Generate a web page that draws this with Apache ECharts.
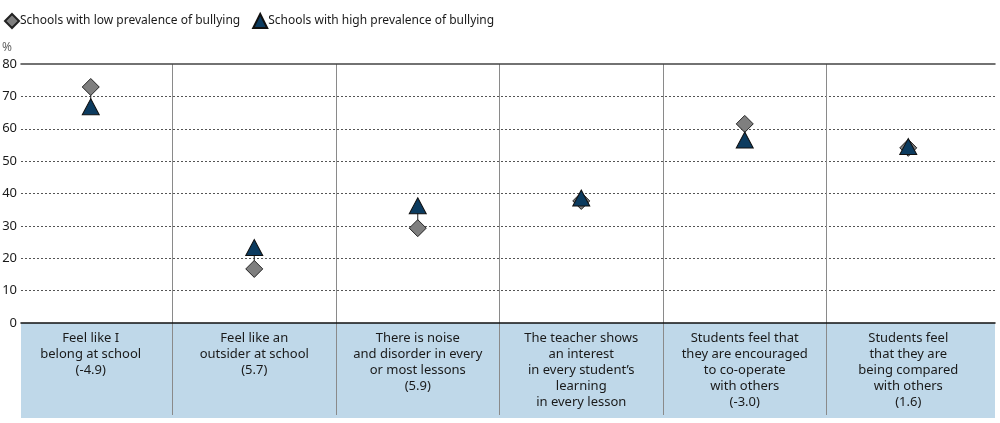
<!DOCTYPE html>
<html>
<head>
<meta charset="utf-8">
<script src="https://cdn.jsdelivr.net/npm/echarts@6/dist/echarts.min.js"></script>
<style>
html,body{margin:0;padding:0;background:#fff;}
#chart{width:1000px;height:423px;}
</style>
</head>
<body>
<div id="chart"></div>
<script>
const categories = [
  "Feel like I\nbelong at school\n(-4.9)",
  "Feel like an\noutsider at school\n(5.7)",
  "There is noise\nand disorder in every\nor most lessons\n(5.9)",
  "The teacher shows\nan interest\nin every student\u2019s\nlearning\nin every lesson",
  "Students feel that\nthey are encouraged\nto co-operate\nwith others\n(-3.0)",
  "Students feel\nthat they are\nbeing compared\nwith others\n(1.6)"
];
const seriesNames = ["Schools with low prevalence of bullying", "Schools with high prevalence of bullying"];
const lowValues = [72.9, 16.7, 29.3, 37.7, 61.5, 54.1];
const highValues = [66.8, 23.3, 36.2, 38.6, 56.5, 54.5];
const yTicks = {min: 0, max: 80, interval: 10};

const FONT = '"Noto Sans", "Open Sans", sans-serif';
const chart = echarts.init(document.getElementById('chart'), null, {renderer: 'canvas'});

const plotTop = 64, zeroY = 323, bandBottom = 415;
const pxPerUnit = (zeroY - plotTop) / (yTicks.max - yTicks.min);
const dataYMin = -(bandBottom - zeroY) / pxPerUnit;

const option = {
  animation: false,
  textStyle: {fontFamily: FONT},
  legend: {
    left: -1, top: 8,
    itemWidth: 14, itemHeight: 14, itemGap: 12,
    textStyle: {fontFamily: FONT, fontSize: 12, color: '#1a1a1a', padding: [0, 0, 0, -4]},
    data: seriesNames
  },
  graphic: {
    elements: [{
      type: 'rect', z: -10, silent: true,
      shape: {x: 21, y: zeroY, width: 974, height: 95},
      style: {fill: '#bfd8e9'}
    }]
  },
  grid: [
    {left: 21, right: 5, top: plotTop, bottom: 423 - zeroY, containLabel: false, outerBoundsMode: 'none'},
    {left: 9, right: 10, top: plotTop, bottom: 423 - bandBottom, containLabel: false, outerBoundsMode: 'none'},
    {left: 9, right: 10, top: plotTop, bottom: 423 - zeroY, containLabel: false, outerBoundsMode: 'none'}
  ],
  xAxis: [
    {gridIndex: 0, type: 'category', data: categories, position: 'bottom',
     axisLine: {show: true, lineStyle: {color: '#111', width: 1.5}},
     axisTick: {show: false}, axisLabel: {show: false}, splitLine: {show: false}},
    {gridIndex: 0, type: 'category', data: categories, position: 'top',
     axisLine: {show: true, onZero: false, lineStyle: {color: '#444', width: 1.5}},
     axisTick: {show: false}, axisLabel: {show: false}, splitLine: {show: false}},
    {gridIndex: 1, type: 'category', data: categories, boundaryGap: true,
     axisLine: {show: false}, axisTick: {show: false}, axisLabel: {show: false},
     splitLine: {show: true, showMinLine: false, showMaxLine: false, interval: 0, lineStyle: {color: '#8a8a8a', width: 1}}},
    {gridIndex: 2, type: 'category', data: categories, boundaryGap: true, position: 'bottom',
     axisLine: {show: false}, axisTick: {show: false}, splitLine: {show: false},
     axisLabel: {interval: 0, margin: 7, fontSize: 13, lineHeight: 16, color: '#1a1a1a', fontFamily: FONT, align: 'center'}}
  ],
  yAxis: [
    {gridIndex: 0, type: 'value', min: yTicks.min, max: yTicks.max, interval: yTicks.interval,
     name: '%', nameLocation: 'end', nameGap: 10,
     nameTextStyle: {fontFamily: FONT, fontSize: 12, color: '#666', align: 'right', padding: [0, 9, 0, 0]},
     axisLine: {show: false}, axisTick: {show: false},
     axisLabel: {margin: 4, fontSize: 13, color: '#1a1a1a', fontFamily: FONT},
     splitLine: {show: true, showMinLine: false, showMaxLine: false, lineStyle: {color: '#555', width: 1, type: [2, 2]}}},
    {gridIndex: 1, type: 'value', min: dataYMin, max: yTicks.max, show: false, splitLine: {show: false}},
    {gridIndex: 2, type: 'value', min: yTicks.min, max: yTicks.max, show: false, splitLine: {show: false}}
  ],
  series: [
    {
      type: 'custom', name: 'connector', xAxisIndex: 2, yAxisIndex: 1, z: 1,
      data: categories.map((c, i) => [i, lowValues[i], highValues[i]]),
      encode: {x: 0, y: [1, 2]},
      renderItem: function (params, api) {
        const a = api.coord([api.value(0), api.value(1)]);
        const b = api.coord([api.value(0), api.value(2)]);
        return {type: 'line', shape: {x1: a[0], y1: a[1], x2: b[0], y2: b[1]},
                style: {stroke: '#222', lineWidth: 1}};
      },
      silent: true
    },
    {
      type: 'scatter', name: seriesNames[0], xAxisIndex: 2, yAxisIndex: 1, z: 2,
      symbol: 'diamond', symbolSize: [17, 17],
      itemStyle: {color: '#7f7f7f', borderColor: '#222', borderWidth: 1, opacity: 1},
      data: lowValues
    },
    {
      type: 'scatter', name: seriesNames[1], xAxisIndex: 2, yAxisIndex: 1, z: 3,
      symbol: 'triangle', symbolSize: [17, 16],
      itemStyle: {color: '#0c3b5f', borderColor: '#111', borderWidth: 1, opacity: 1},
      data: highValues
    }
  ]
};
chart.setOption(option);
</script>
</body>
</html>
